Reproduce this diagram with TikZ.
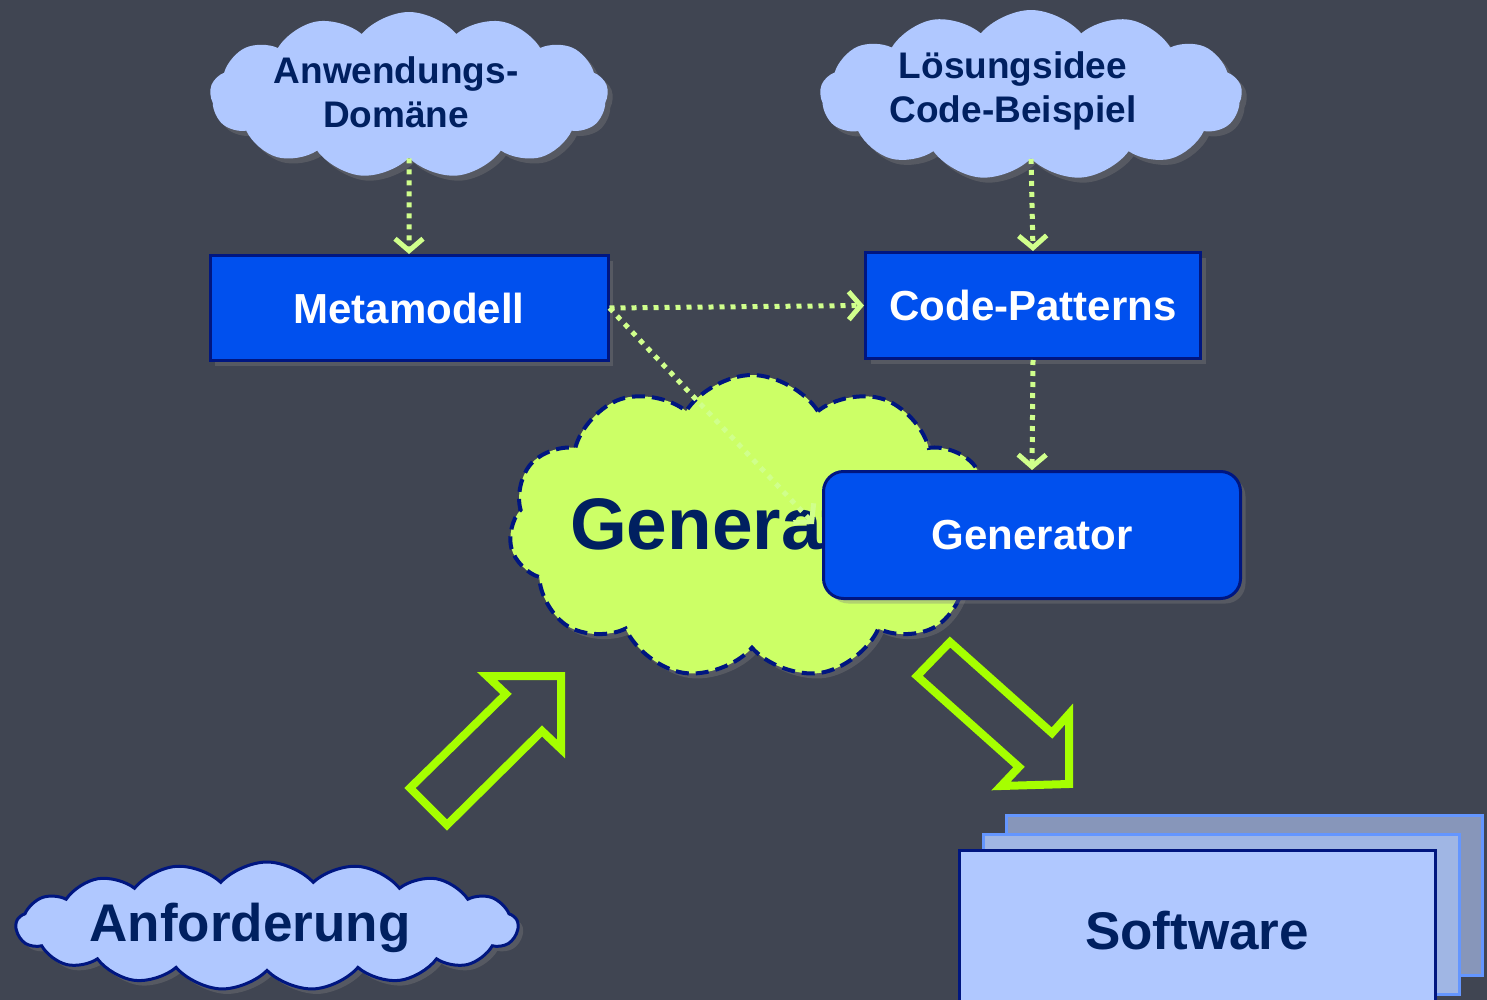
\documentclass[tikz,border=0pt]{standalone}
\usepackage{fontspec}
\setmainfont{Liberation Sans}
\usetikzlibrary{shapes.symbols,arrows.meta,shadows}
\definecolor{hintergrund}{RGB}{64,69,82}
\definecolor{wolkeblau}{RGB}{176,200,255}
\definecolor{kastenblau}{RGB}{0,80,238}
\definecolor{rand}{RGB}{0,22,128}
\definecolor{schrift}{RGB}{0,32,96}
\definecolor{wolkegruen}{RGB}{204,255,102}
\definecolor{pfeilgruen}{RGB}{166,255,0}
\definecolor{punktgruen}{RGB}{208,255,140}
\definecolor{blatthinten}{RGB}{135,150,186}
\definecolor{blattmitte}{RGB}{160,182,228}
\definecolor{blattrand}{RGB}{100,150,255}
\begin{document}
\begin{tikzpicture}[x=0.5pt,y=-0.5pt,
  schatten/.style={drop shadow={opacity=0.35,shadow xshift=2.5pt,shadow yshift=-2.5pt}},
  wolke/.style={cloud,cloud puffs=13,cloud puff arc=100,cloud ignores aspect,inner sep=0pt,fill=wolkeblau,schatten},
  wolketext/.style={text=schrift,font=\bfseries\fontsize{18.5}{22}\selectfont,align=center},
  kasten/.style={rectangle,draw=rand,line width=1.5pt,fill=kastenblau,text=white,
    font=\bfseries\fontsize{21}{25}\selectfont,schatten},
  blatt/.style={rectangle,line width=1.5pt,minimum width=238pt,minimum height=80pt},
  fluss/.style={draw=punktgruen,line width=2.5pt,dash pattern=on 2.5pt off 3pt,
    -{Straight Barb[length=6pt,width=14pt,line width=2.5pt]}},
  pfeil/.style={draw=pfeilgruen,line width=4pt,line join=miter}]
\useasboundingbox (0,0) rectangle (1487,1000);
\fill[hintergrund] (0,0) rectangle (1487,1000);

\node[wolke,minimum width=199pt,minimum height=83pt,
  label={[wolketext,xshift=-6.5pt,yshift=1.5pt]center:Anwendungs-\\Domäne}] (domaene) at (409,95) {};
\node[wolke,minimum width=211pt,minimum height=85pt,
  label={[wolketext,xshift=-9pt,yshift=2pt]center:Lösungsidee\\Code-Beispiel}] (idee) at (1031,95) {};
\node[wolke,cloud puffs=17,cloud puff arc=95,draw=rand,line width=1.5pt,minimum width=251pt,minimum height=64pt,
  label={[wolketext,font=\bfseries\fontsize{26.5}{30}\selectfont,xshift=-8.5pt,yshift=-1pt]center:Anforderung}] (anforderung) at (267,926) {};

\node[kasten,minimum width=199pt,minimum height=52.5pt] (meta) at (409,308) {Metamodell};
\node[kasten,minimum width=167.5pt,minimum height=53pt] (muster) at (1033,305.5) {Code-Patterns};

\node[wolke,cloud puffs=11,cloud puff arc=115,fill=wolkegruen,draw=rand,line width=2pt,dash pattern=on 6.5pt off 3.5pt,
  minimum width=243pt,minimum height=152pt] (gruen) at (752,527) {};
\node[anchor=base west,text=schrift,font=\bfseries\fontsize{36.5}{40}\selectfont] (gruentext) at (563,549) {Generator};

\draw[fluss] (domaene.south) -- (meta.north);
\draw[fluss] (idee.south) -- (muster.north);
\draw[fluss] (meta.east) -- (muster.west);
\draw[fluss] (meta.east) -- (814,524);

\node[kasten,rounded corners=10pt,minimum width=208.5pt,minimum height=63.5pt] (generator) at (1032,535) {Generator};
\draw[fluss] (muster.south) -- (generator.north);

\draw[pfeil] (487,676) -- (561,676) -- (561,749) -- (542,731) -- (447,825) -- (410,788) -- (506,694) -- cycle;
\draw[pfeil] (950,642) -- (1052,733) -- (1069,714) -- (1069,784) -- (1001,786) -- (1019,767) -- (917,676) -- cycle;

\node[blatt,draw=blattrand,fill=blatthinten] (blatt3) at (1244,895.5) {};
\node[blatt,draw=blattrand,fill=blattmitte] (blatt2) at (1221.5,914.5) {};
\node[blatt,draw=rand,fill=wolkeblau,text=schrift,font=\bfseries\fontsize{26.5}{30}\selectfont,
  text depth=0pt] (software) at (1197,930) {Software};
\end{tikzpicture}
\end{document}
